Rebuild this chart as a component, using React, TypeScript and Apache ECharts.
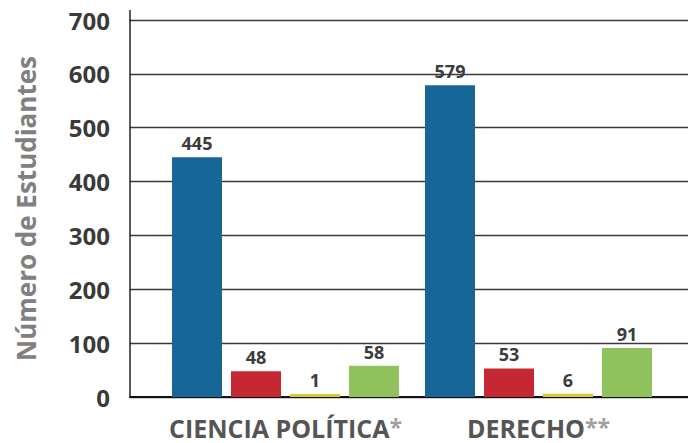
import React, { useEffect, useRef } from "react";
import * as echarts from "echarts";

const categories = ["CIENCIA POLÍTICA", "DERECHO"];
const categorySuffix = ["*", "**"];
const seriesNames = ["Serie 1", "Serie 2", "Serie 3", "Serie 4"];
const seriesColors = ["#176698", "#c62833", "#d5c93a", "#8fc25c"];
const serie1 = [445, 579];
const serie2 = [48, 53];
const serie3 = [1, 6];
const serie4 = [58, 91];
const yTicks = [0, 100, 200, 300, 400, 500, 600, 700];

export default function App() {
  const ref = useRef<HTMLDivElement>(null);
  useEffect(() => {
    document.body.style.margin = "0";
    const chart = echarts.init(ref.current!, null, { renderer: "svg" });
    const values = [serie1, serie2, serie3, serie4];
    const font = "Open Sans";
    const yMin = yTicks[0];
    const yMax = yTicks[yTicks.length - 1];
    const yInterval = yTicks[1] - yTicks[0];
    chart.setOption({
      animation: false,
      backgroundColor: "#ffffff",
      grid: [
        { left: 159, right: 23, top: 20, bottom: 46 },
        { left: 130, right: 0, top: 20, bottom: 46 },
      ],
      xAxis: [
        {
          type: "category",
          gridIndex: 0,
          data: categories.map((c, i) => `{n|${c}}{s|${categorySuffix[i]}}`),
          axisLine: { show: false },
          axisTick: { show: false },
          axisLabel: {
            margin: 18,
            rich: {
              n: { fontFamily: font, fontWeight: "bold", fontSize: 25, color: "#555555" },
              s: { fontFamily: font, fontWeight: "bold", fontSize: 23, color: "#a0a0a0", verticalAlign: "top" },
            },
          },
        },
        {
          type: "value",
          gridIndex: 1,
          min: 0,
          max: 1,
          axisLine: { show: true, onZero: false, lineStyle: { color: "#111111", width: 2 } },
          axisTick: { show: false },
          axisLabel: { show: false },
          splitLine: { show: false },
        },
      ],
      yAxis: [
        {
          type: "value",
          gridIndex: 0,
          min: yMin,
          max: yMax,
          interval: yInterval,
          axisLine: { show: false },
          axisTick: { show: false },
          axisLabel: { show: false },
          splitLine: { show: false },
        },
        {
          type: "value",
          gridIndex: 1,
          min: yMin,
          max: yMax,
          interval: yInterval,
          name: "Número de Estudiantes",
          nameLocation: "middle",
          nameGap: 91,
          nameTextStyle: { fontFamily: font, fontWeight: "bold", fontSize: 26, color: "#808080" },
          axisLine: { show: true, lineStyle: { color: "#222222", width: 1.5 } },
          axisTick: { show: false },
          axisLabel: {
            margin: 20,
            fontFamily: font,
            fontWeight: "bold",
            fontSize: 24,
            color: "#3a3a3a",
          },
          splitLine: { show: true, lineStyle: { color: "#3a3a3a", width: 1.3 } },
        },
      ],
      graphic: [
        {
          type: "line",
          shape: { x1: 130, y1: 10, x2: 130, y2: 21 },
          style: { stroke: "#222222", lineWidth: 1.5 },
        },
      ],
      series: values.map((v, i) => ({
        type: "bar",
        name: seriesNames[i],
        xAxisIndex: 0,
        yAxisIndex: 0,
        data: v,
        barWidth: 50,
        barGap: "18%",
        barMinHeight: 3,
        itemStyle: { color: seriesColors[i] },
        label: {
          show: true,
          position: "top",
          distance: 5,
          fontFamily: font,
          fontWeight: "bold",
          fontSize: 18,
          color: "#3c3c3c",
        },
      })),
    });
    return () => chart.dispose();
  }, []);
  return <div ref={ref} style={{ width: 688, height: 443 }} />;
}
